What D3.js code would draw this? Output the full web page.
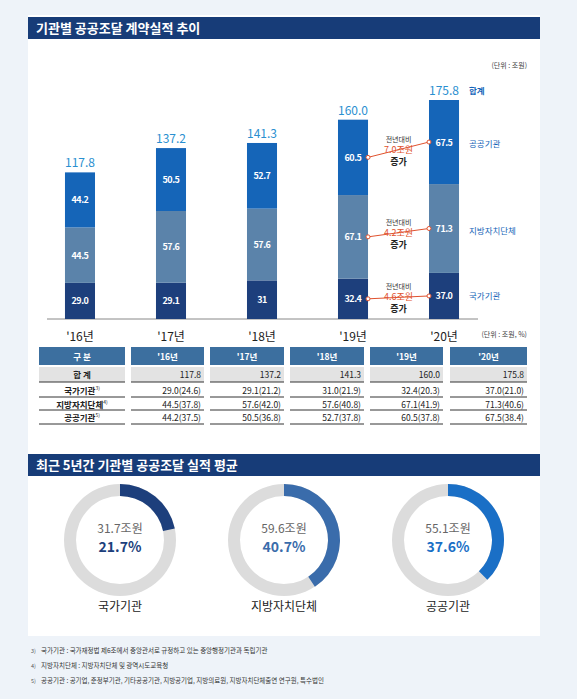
<!DOCTYPE html>
<html><head><meta charset="utf-8">
<script src="https://cdn.jsdelivr.net/npm/d3@7"></script>
<style>body{margin:0;background:#eef3f9;font-family:"Noto Sans CJK KR","Noto Sans",sans-serif}</style>
</head><body><svg id="c"></svg>
<script>
var years = ["'16년", "'17년", "'18년", "'19년", "'20년"];
var national = [29.0, 29.1, 31, 32.4, 37.0];
var local = [44.5, 57.6, 57.6, 67.1, 71.3];
var publicOrg = [44.2, 50.5, 52.7, 60.5, 67.5];
var totals = [117.8, 137.2, 141.3, 160.0, 175.8];
var natShare = ["24.6", "21.2", "21.9", "20.3", "21.0"];
var locShare = ["37.8", "42.0", "40.8", "41.9", "40.6"];
var pubShare = ["37.5", "36.8", "37.8", "37.8", "38.4"];
var seriesNames = ["국가기관", "지방자치단체", "공공기관"];
var seriesColors = ["#1d3f7c", "#5b83aa", "#1565b8"];
var increases = ["4.6조원", "4.2조원", "7.0조원"];
var avgAmount = ["31.7조원", "59.6조원", "55.1조원"];
var avgShare = [21.7, 40.7, 37.6];
var donutColors = ["#1d3f7c", "#3a6cab", "#1a6fc6"];

var W = 577, H = 699;
var svg = d3.select("#c").attr("width", W).attr("height", H);
svg.append("rect").attr("x", 28).attr("y", 15).attr("width", 512).attr("height", 621).attr("fill", "#fff");

function header(y, txt) {
    svg.append("rect").attr("x", 28).attr("y", y).attr("width", 512).attr("height", 22).attr("fill", "#173c78");
    svg.append("text").attr("x", 36).attr("y", y + 16).attr("fill", "#fff")
        .attr("font-size", 13).attr("font-weight", "bold").text(txt);
}
header(17, "기관별 공공조달 계약실적 추이");
header(454, "최근 5년간 기관별 공공조달 실적 평균");

// stacked bars
var x = d3.scaleBand().domain(years).range([4, 520]).padding(0.67);
var y = d3.scaleLinear().domain([0, 175.8]).range([319, 100]);
var stackData = years.map(function (yr, i) { return {yr: yr, a: national[i], b: local[i], c: publicOrg[i]}; });
var stacks = d3.stack().keys(["a", "b", "c"])(stackData);
svg.append("line").attr("x1", 47).attr("x2", 478).attr("y1", 319).attr("y2", 319).attr("stroke", "#888");
stacks.forEach(function (s, k) {
    var g = svg.append("g");
    g.selectAll("rect").data(s).join("rect")
        .attr("x", function (d) { return x(d.data.yr); })
        .attr("y", function (d) { return y(d[1]); })
        .attr("width", x.bandwidth())
        .attr("height", function (d) { return y(d[0]) - y(d[1]); })
        .attr("fill", seriesColors[k]);
    g.selectAll("text").data(s).join("text")
        .attr("x", function (d) { return x(d.data.yr) + x.bandwidth() / 2; })
        .attr("y", function (d) { return (y(d[0]) + y(d[1])) / 2 + 3.5; })
        .attr("text-anchor", "middle").attr("fill", "#fff").attr("font-size", 9).attr("font-weight", "bold")
        .attr("letter-spacing", -0.5)
        .text(function (d) { var v = d[1] - d[0]; return d.data.yr == "'18년" && k == 0 ? "31" : v.toFixed(1); });
});
svg.append("g").selectAll("text").data(years).join("text")
    .attr("x", function (d) { return x(d) + x.bandwidth() / 2; })
    .attr("y", function (d, i) { return y(totals[i]) - 5; })
    .attr("text-anchor", "middle").attr("fill", "#2a8fd0").attr("font-size", 12)
    .text(function (d, i) { return totals[i].toFixed(1); });
svg.append("g").selectAll("text").data(years).join("text")
    .attr("x", function (d) { return x(d) + x.bandwidth() / 2; }).attr("y", 341)
    .attr("text-anchor", "middle").attr("fill", "#222").attr("font-size", 12).text(function (d) { return d; });
svg.append("text").attr("x", 527).attr("y", 68).attr("text-anchor", "end").attr("font-size", 7).attr("fill", "#444").text("(단위 : 조원)");

// legend on right
var legY = [299, 234, 147];
seriesNames.forEach(function (n, k) {
    svg.append("text").attr("x", 469).attr("y", legY[k]).attr("font-size", 8.5).attr("fill", "#1565b8").text(n);
});
svg.append("text").attr("x", 469).attr("y", 94).attr("font-size", 8.5).attr("font-weight", "bold").attr("fill", "#1565b8").text("합계");

// year-over-year annotations
var x19 = x(years[3]) + x.bandwidth(), x20 = x(years[4]);
[national, local, publicOrg].forEach(function (arr, k) {
    var base = k == 0 ? 0 : k == 1 ? national[3] : national[3] + local[3];
    var base20 = k == 0 ? 0 : k == 1 ? national[4] : national[4] + local[4];
    var y1 = y(base + arr[3] / 2), y2 = y(base20 + arr[4] / 2);
    var mx = (x19 + x20) / 2, my = (y1 + y2) / 2;
    svg.append("line").attr("x1", x19).attr("y1", y1).attr("x2", x20).attr("y2", y2).attr("stroke", "#e0522e").attr("stroke-width", 1);
    [[x19, y1], [x20, y2]].forEach(function (p) {
        svg.append("circle").attr("cx", p[0]).attr("cy", p[1]).attr("r", 2).attr("fill", "#fff").attr("stroke", "#e0522e");
    });
    svg.append("text").attr("x", mx).attr("y", my - 8).attr("text-anchor", "middle").attr("font-size", 7).attr("fill", "#333").text("전년대비");
    svg.append("text").attr("x", mx).attr("y", my + 3).attr("text-anchor", "middle").attr("font-size", 9).attr("fill", "#e0522e").text(increases[k]);
    svg.append("text").attr("x", mx).attr("y", my + 15).attr("text-anchor", "middle").attr("font-size", 9).attr("font-weight", "bold").attr("fill", "#222").text("증가");
});

// table
svg.append("text").attr("x", 527).attr("y", 337).attr("text-anchor", "end").attr("font-size", 7).attr("fill", "#444").text("(단위 : 조원, %)");
var colX = [[39, 125], [131, 204], [210, 284], [290, 364], [370, 443], [450, 527]];
var rowY = [[347, 365], [367, 382], [384, 397], [398, 410], [411, 424]];
var rows = [["구  분"].concat(years),
    ["합  계"].concat(totals.map(function (v) { return v.toFixed(1); })),
    [seriesNames[0]].concat(national.map(function (v, i) { return v.toFixed(1) + "(" + natShare[i] + ")"; })),
    [seriesNames[1]].concat(local.map(function (v, i) { return v.toFixed(1) + "(" + locShare[i] + ")"; })),
    [seriesNames[2]].concat(publicOrg.map(function (v, i) { return v.toFixed(1) + "(" + pubShare[i] + ")"; }))];
var sups = ["", "", "3)", "4)", "5)"];
rows.forEach(function (r, ri) {
    var y0 = rowY[ri][0], y1 = rowY[ri][1];
    r.forEach(function (cell, ci) {
        var c = colX[ci];
        if (ri == 0) svg.append("rect").attr("x", c[0]).attr("y", y0).attr("width", c[1] - c[0]).attr("height", y1 - y0).attr("fill", "#3c6f9f");
        if (ri == 1) svg.append("rect").attr("x", c[0]).attr("y", y0).attr("width", c[1] - c[0]).attr("height", y1 - y0).attr("fill", "#e3e3e3");
        if (ri > 0) svg.append("line").attr("x1", c[0]).attr("x2", c[1]).attr("y1", y1).attr("y2", y1).attr("stroke", "#333").attr("stroke-width", 1);
        var t = svg.append("text").attr("y", (y0 + y1) / 2 + 3.5).attr("font-size", 8.5)
            .attr("fill", ri == 0 ? "#fff" : "#222").attr("font-weight", ri == 0 || ci == 0 ? "bold" : "normal");
        if (ci == 0 || ri == 0) t.attr("x", (c[0] + c[1]) / 2).attr("text-anchor", "middle");
        else t.attr("x", c[1] - 3).attr("text-anchor", "end");
        t.text(cell);
        if (ci == 0 && sups[ri]) t.append("tspan").attr("dy", -4).attr("font-size", 5).attr("font-weight", "normal").text(sups[ri]);
    });
});

// donuts
var cx = [120, 284, 448];
var arc = d3.arc().innerRadius(44).outerRadius(56);
avgShare.forEach(function (v, i) {
    var g = svg.append("g").attr("transform", "translate(" + cx[i] + ",540)");
    g.append("path").attr("d", arc({startAngle: 0, endAngle: 2 * Math.PI})).attr("fill", "#dcdcdc");
    g.append("path").attr("d", arc({startAngle: 0, endAngle: 2 * Math.PI * v / 100})).attr("fill", donutColors[i]);
    g.append("text").attr("y", -7).attr("text-anchor", "middle").attr("font-size", 12).attr("fill", "#666").text(avgAmount[i]);
    g.append("text").attr("y", 12).attr("text-anchor", "middle").attr("font-size", 14).attr("font-weight", "bold").attr("fill", donutColors[i]).text(v.toFixed(1) + "%");
    svg.append("text").attr("x", cx[i]).attr("y", 611).attr("text-anchor", "middle").attr("font-size", 12).attr("fill", "#222").text(seriesNames[i]);
});

// footnotes
var notes = [["3)", "국가기관 : 국가재정법 제6조에서 중앙관서로 규정하고 있는 중앙행정기관과 독립기관"],
    ["4)", "지방자치단체 : 지방자치단체 및 광역시도교육청"],
    ["5)", "공공기관 : 공기업, 준정부기관, 기타공공기관, 지방공기업, 지방의료원, 지방자치단체출연 연구원, 특수법인"]];
notes.forEach(function (n, i) {
    svg.append("text").attr("x", 31).attr("y", 653 + i * 15).attr("font-size", 5.5).attr("fill", "#555").text(n[0]);
    svg.append("text").attr("x", 41).attr("y", 653 + i * 15).attr("font-size", 6.5).attr("fill", "#333").text(n[1]);
});
</script></body></html>
